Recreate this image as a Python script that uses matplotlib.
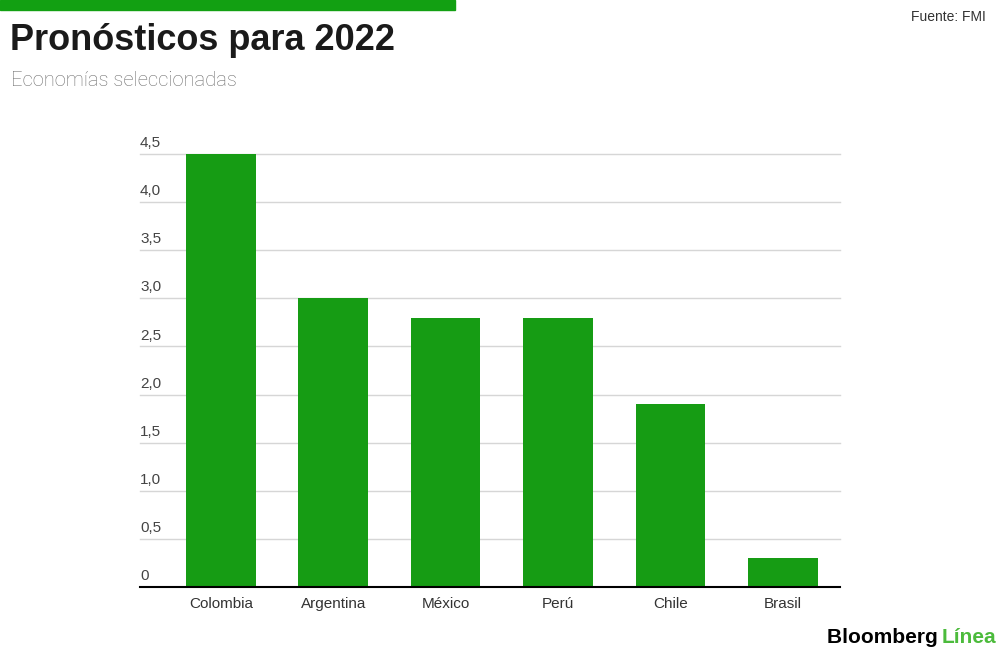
import matplotlib.pyplot as plt
from matplotlib.transforms import blended_transform_factory

# Data
paises = ['Colombia', 'Argentina', 'México', 'Perú', 'Chile', 'Brasil']
pronostico = [4.5, 3.0, 2.8, 2.8, 1.9, 0.3]
yticks = [0, 0.5, 1.0, 1.5, 2.0, 2.5, 3.0, 3.5, 4.0, 4.5]
ytick_labels = ['0', '0,5', '1,0', '1,5', '2,0', '2,5', '3,0', '3,5', '4,0', '4,5']

verde = '#169c14'
plt.rcParams['font.family'] = ['Liberation Sans', 'DejaVu Sans']

fig = plt.figure(figsize=(10, 6.55), dpi=100)
ax = fig.add_axes([0.14, 0.1038, 0.70, 0.6611])

x = list(range(len(paises)))
ax.bar(x, pronostico, width=0.62, color=verde, zorder=3)
ax.set_xlim(-0.72, 5.51)
ax.set_ylim(0, 4.5)

# grid lines and y labels sitting above the lines
trans = blended_transform_factory(ax.transAxes, ax.transData)
for t, lab in zip(yticks, ytick_labels):
    if t > 0:
        ax.axhline(t, color='#d6d6d6', lw=1, zorder=1, clip_on=False)
    ax.text(0, t + 0.04, lab, transform=trans, ha='left', va='bottom',
            fontsize=11, color='#444444')
ax.axhline(0, color='black', lw=1.5, zorder=4, clip_on=False)

ax.set_yticks([])
ax.set_xticks(x)
ax.set_xticklabels(paises, fontsize=11, color='#333333')
ax.tick_params(axis='x', length=0, pad=7)
for s in ax.spines.values():
    s.set_visible(False)

# header
fig.patches.append(plt.Rectangle((0, 1 - 10 / 655), 0.455, 10 / 655,
                                 transform=fig.transFigure, color='#12a012'))
fig.text(0.010, 0.938, 'Pronósticos para 2022', fontsize=26, fontweight='bold',
         color='#1a1a1a', va='center', ha='left')
fig.text(0.011, 0.877, 'Economías seleccionadas', fontsize=14.5, fontweight='light',
         color='#6e6e6e', va='center', ha='left', family='Roboto')
fig.text(0.986, 0.974, 'Fuente: FMI', fontsize=10, color='#333333',
         va='center', ha='right')

# logo
t1 = fig.text(0.827, 0.012, 'Bloomberg ', fontsize=15, fontweight='bold',
              color='black', va='bottom', ha='left')
fig.canvas.draw()
bb = t1.get_window_extent()
fig.text(bb.x1 / 1000 - 0.002, 0.012, 'Línea', fontsize=15, fontweight='bold',
         color='#4cbb3c', va='bottom', ha='left')

fig.savefig('out.png', dpi=100)
